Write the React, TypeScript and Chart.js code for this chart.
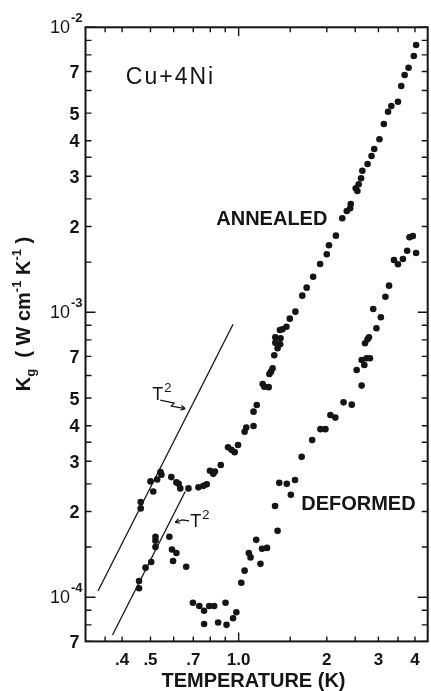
import React, { useEffect, useRef } from "react";
import { Chart, registerables } from "chart.js";

Chart.register(...registerables);

// ---- data (temperature in K, conductivity Kg in W cm^-1 K^-1) ----
const annealedT = [0.463, 0.463, 0.5, 0.511, 0.527, 0.541, 0.545, 0.589, 0.613, 0.624, 0.632, 0.674, 0.729, 0.758, 0.778, 0.798, 0.819, 0.83, 0.869, 0.92, 0.945, 0.969, 0.995, 1.048, 1.062, 1.124, 1.124, 1.153, 1.208, 1.224, 1.266, 1.273, 1.29, 1.306, 1.323, 1.334, 1.334, 1.358, 1.386, 1.39, 1.383, 1.411, 1.456, 1.495, 1.562, 1.649, 1.707, 1.796, 1.897, 1.999, 2.034, 2.148, 2.258, 2.34, 2.403, 2.414, 2.51, 2.543, 2.569, 2.618, 2.644, 2.755, 2.842, 2.903, 3.025, 3.131, 3.237, 3.321, 3.499, 3.591, 3.687, 3.803, 3.963, 4.034];
const annealedK = [2.05e-4, 2.16e-4, 2.55e-4, 2.35e-4, 2.59e-4, 2.75e-4, 2.69e-4, 2.64e-4, 2.53e-4, 2.5e-4, 2.41e-4, 2.41e-4, 2.43e-4, 2.46e-4, 2.49e-4, 2.78e-4, 2.71e-4, 2.76e-4, 2.91e-4, 3.36e-4, 3.29e-4, 3.23e-4, 3.42e-4, 3.81e-4, 3.94e-4, 3.99e-4, 4.48e-4, 4.73e-4, 5.6e-4, 5.48e-4, 5.46e-4, 6.07e-4, 6.19e-4, 6.36e-4, 7.07e-4, 7.82e-4, 8.17e-4, 7.48e-4, 7.72e-4, 8.11e-4, 8.67e-4, 8.72e-4, 8.9e-4, 9.5e-4, 1.005e-3, 1.144e-3, 1.22e-3, 1.333e-3, 1.477e-3, 1.598e-3, 1.718e-3, 1.857e-3, 2.137e-3, 2.267e-3, 2.317e-3, 2.399e-3, 2.723e-3, 2.664e-3, 2.812e-3, 2.953e-3, 3.138e-3, 3.313e-3, 3.535e-3, 3.741e-3, 4.046e-3, 4.577e-3, 5.056e-3, 5.294e-3, 5.481e-3, 6.223e-3, 6.801e-3, 7.214e-3, 7.932e-3, 8.667e-3];

const deformedT = [0.457, 0.457, 0.481, 0.503, 0.52, 0.52, 0.52, 0.58, 0.592, 0.613, 0.597, 0.662, 0.698, 0.734, 0.762, 0.794, 0.825, 0.902, 0.982, 0.957, 0.909, 0.851, 0.762, 1.021, 1.048, 1.083, 1.098, 1.148, 1.187, 1.202, 1.25, 1.331, 1.358, 1.376, 1.46, 1.558, 1.507, 1.641, 1.782, 1.903, 1.978, 2.057, 2.138, 2.281, 2.433, 2.63, 2.529, 2.686, 2.63, 2.734, 2.807, 2.701, 2.755, 2.786, 2.954, 3.059, 2.88, 3.17, 3.262, 3.391, 3.499, 3.638, 3.761, 4.034, 3.832, 3.932];
const deformedK = [1.075e-4, 1.14e-4, 1.27e-4, 1.33e-4, 1.5e-4, 1.58e-4, 1.63e-4, 1.63e-4, 1.47e-4, 1.43e-4, 1.34e-4, 1.28e-4, 9.57e-5, 9.32e-5, 8.97e-5, 9.32e-5, 9.32e-5, 9.57e-5, 8.86e-5, 8.44e-5, 8.0e-5, 8.15e-5, 8.06e-5, 1.125e-4, 1.24e-4, 1.43e-4, 1.38e-4, 1.59e-4, 1.31e-4, 1.48e-4, 1.49e-4, 2.09e-4, 1.71e-4, 2.52e-4, 2.5e-4, 2.58e-4, 2.29e-4, 3.11e-4, 3.56e-4, 3.89e-4, 3.89e-4, 4.36e-4, 4.27e-4, 4.83e-4, 4.74e-4, 5.53e-4, 6.27e-4, 6.53e-4, 6.8e-4, 6.9e-4, 6.9e-4, 7.79e-4, 8.04e-4, 8.17e-4, 8.79e-4, 9.61e-4, 1.027e-3, 1.134e-3, 1.24e-3, 1.526e-3, 1.474e-3, 1.538e-3, 1.645e-3, 1.615e-3, 1.833e-3, 1.852e-3];

// T^2 guide lines (end points)
const guideUpperT = [0.331, 0.957];
const guideUpperK = [1.052e-4, 9.08e-4];
const guideLowerT = [0.371, 0.657];
const guideLowerK = [7.37e-5, 2.35e-4];

// ---- axes ----
const xMin = 0.303;
const xMax = 4.42;
const yMin = 7e-5;
const yMax = 1e-2;
const xTickValues = [0.35, 0.4, 0.5, 0.6, 0.7, 0.8, 0.9, 1, 1.5, 2, 2.5, 3, 3.5, 4];
const xLabelValues = [0.4, 0.5, 0.7, 1, 2, 3, 4];
const xLabelTexts = [".4", ".5", ".7", "1.0", "2", "3", "4"];
const yTickValues = [7e-5, 8e-5, 9e-5, 1e-4, 1.5e-4, 2e-4, 2.5e-4, 3e-4, 3.5e-4, 4e-4, 5e-4, 6e-4, 7e-4, 8e-4, 9e-4, 1e-3, 1.5e-3, 2e-3, 2.5e-3, 3e-3, 3.5e-3, 4e-3, 5e-3, 6e-3, 7e-3, 8e-3, 9e-3, 1e-2];
const yLabelValues = [7e-5, 1e-4, 2e-4, 3e-4, 4e-4, 5e-4, 7e-4, 1e-3, 2e-3, 3e-3, 4e-3, 5e-3, 7e-3, 1e-2];
const yLabelTexts = ["7", "10^-4", "2", "3", "4", "5", "7", "10^-3", "2", "3", "4", "5", "7", "10^-2"];

// annotation anchors (data coordinates)
const alloyLabel = { text: "Cu+4Ni", x: 0.412, y: 6.32e-3 };
const annealedLabel = { text: "ANNEALED", x: 1.298, y: 2.108e-3 };
const deformedLabel = { text: "DEFORMED", x: 2.564, y: 2.108e-4 };
const t2UpperLabel = { x: 0.507, y: 4.92e-4 };
const t2LowerLabel = { x: 0.683, y: 1.765e-4 };

const INK = "#151515";
const FONT = '"Liberation Sans", Arial, sans-serif';

function isDecade(v: number) {
  const l = Math.log10(v);
  return Math.abs(l - Math.round(l)) < 1e-9;
}

function arrowHead(ctx: CanvasRenderingContext2D, fx: number, fy: number, tx: number, ty: number, size: number) {
  const ang = Math.atan2(ty - fy, tx - fx);
  ctx.moveTo(tx, ty);
  ctx.lineTo(tx - size * Math.cos(ang - 0.5), ty - size * Math.sin(ang - 0.5));
  ctx.moveTo(tx, ty);
  ctx.lineTo(tx - size * Math.cos(ang + 0.5), ty - size * Math.sin(ang + 0.5));
}

const framePlugin = {
  id: "paperFrame",
  afterDatasetsDraw(chart: any) {
    const { ctx, chartArea: a } = chart;
    const xs = chart.scales.x;
    const ys = chart.scales.y;
    ctx.save();
    ctx.strokeStyle = INK;
    ctx.fillStyle = INK;
    ctx.lineWidth = 2;
    ctx.strokeRect(a.left, a.top, a.right - a.left, a.bottom - a.top);

    // inward ticks on all four sides
    ctx.lineWidth = 1.4;
    ctx.beginPath();
    for (const v of xTickValues) {
      const px = xs.getPixelForValue(v);
      const len = isDecade(v) ? 9 : 5;
      ctx.moveTo(px, a.bottom);
      ctx.lineTo(px, a.bottom - len);
      ctx.moveTo(px, a.top);
      ctx.lineTo(px, a.top + len);
    }
    for (const v of yTickValues) {
      const py = ys.getPixelForValue(v);
      const len = isDecade(v) ? 10 : 6;
      ctx.moveTo(a.left, py);
      ctx.lineTo(a.left + len, py);
      ctx.moveTo(a.right, py);
      ctx.lineTo(a.right - len, py);
    }
    ctx.stroke();

    // x tick labels
    ctx.font = `bold 17px ${FONT}`;
    ctx.textAlign = "center";
    ctx.textBaseline = "alphabetic";
    xLabelValues.forEach((v, i) => {
      ctx.fillText(xLabelTexts[i], xs.getPixelForValue(v), a.bottom + 24);
    });

    // y tick labels
    yLabelValues.forEach((v, i) => {
      const py = ys.getPixelForValue(v);
      const t = yLabelTexts[i];
      ctx.textAlign = "right";
      ctx.textBaseline = "alphabetic";
      if (t.includes("^")) {
        const [base, exp] = t.split("^");
        const right = a.left - 3;
        ctx.font = `bold 13px ${FONT}`;
        ctx.fillText(exp, right, py - 5);
        const w = ctx.measureText(exp).width;
        ctx.font = `18px ${FONT}`;
        ctx.fillText(base, right - w - 1, py + 6);
      } else {
        ctx.font = `bold 18px ${FONT}`;
        ctx.fillText(t, a.left - 6, py + 6.5);
      }
    });

    // axis titles
    ctx.font = `bold 20px ${FONT}`;
    ctx.textAlign = "center";
    ctx.fillText("TEMPERATURE (K)", a.left + 168, a.bottom + 46);

    // y title (rotated, with sub/superscripts)
    const main = `bold 20px ${FONT}`;
    const small = `bold 13px ${FONT}`;
    const parts: [string, string, number][] = [
      ["K", main, 0],
      ["g", small, 5],
      ["  ( W cm", main, 0],
      ["-1", small, -9],
      [" K", main, 0],
      ["-1", small, -9],
      [" )", main, 0],
    ];
    let total = 0;
    for (const [t, f] of parts) {
      ctx.font = f;
      total += ctx.measureText(t).width;
    }
    ctx.save();
    ctx.translate(30, 314);
    ctx.rotate(-Math.PI / 2);
    ctx.textAlign = "left";
    let cx = -total / 2;
    for (const [t, f, dy] of parts) {
      ctx.font = f;
      ctx.fillText(t, cx, dy);
      cx += ctx.measureText(t).width;
    }
    ctx.restore();

    // in-plot labels
    ctx.textAlign = "left";
    ctx.font = `23px ${FONT}`;
    const c2: any = ctx;
    if ("letterSpacing" in c2) c2.letterSpacing = "2px";
    ctx.fillText(alloyLabel.text, xs.getPixelForValue(alloyLabel.x), ys.getPixelForValue(alloyLabel.y));
    if ("letterSpacing" in c2) c2.letterSpacing = "0px";
    ctx.font = `bold 20px ${FONT}`;
    ctx.textAlign = "center";
    ctx.textBaseline = "middle";
    ctx.fillText(annealedLabel.text, xs.getPixelForValue(annealedLabel.x), ys.getPixelForValue(annealedLabel.y));
    ctx.fillText(deformedLabel.text, xs.getPixelForValue(deformedLabel.x), ys.getPixelForValue(deformedLabel.y));

    // T^2 annotations
    ctx.textAlign = "left";
    ctx.textBaseline = "alphabetic";
    const drawT2 = (px: number, py: number) => {
      ctx.font = `18px ${FONT}`;
      ctx.fillText("T", px, py);
      const w = ctx.measureText("T").width;
      ctx.font = `13px ${FONT}`;
      ctx.fillText("2", px + w + 1, py - 8);
    };
    const ux = xs.getPixelForValue(t2UpperLabel.x);
    const uy = ys.getPixelForValue(t2UpperLabel.y);
    drawT2(ux, uy);
    const lx = xs.getPixelForValue(t2LowerLabel.x);
    const ly = ys.getPixelForValue(t2LowerLabel.y);
    drawT2(lx, ly);

    ctx.lineWidth = 1.2;
    ctx.beginPath();
    // squiggly arrow to upper line
    ctx.moveTo(ux + 8, uy);
    ctx.lineTo(ux + 22, uy + 3);
    ctx.lineTo(ux + 19, uy + 6);
    ctx.lineTo(ux + 33, uy + 8.5);
    arrowHead(ctx, ux + 19, uy + 6, ux + 33, uy + 8.5, 5);
    // short arrow to lower line
    ctx.moveTo(lx - 1, ly - 6);
    ctx.lineTo(lx - 8, ly - 7);
    ctx.lineTo(lx - 15, ly - 4.5);
    arrowHead(ctx, lx - 8, ly - 7, lx - 15, ly - 4.5, 5);
    ctx.stroke();

    ctx.restore();
  },
};

export default function App() {
  const canvasRef = useRef<HTMLCanvasElement | null>(null);

  useEffect(() => {
    const canvas = canvasRef.current;
    if (!canvas) return;
    const dot = {
      showLine: false,
      pointRadius: 3.3,
      pointHoverRadius: 3.3,
      pointBackgroundColor: INK,
      pointBorderWidth: 0,
      borderColor: INK,
    };
    const guide = {
      showLine: true,
      pointRadius: 0,
      pointHoverRadius: 0,
      borderColor: INK,
      borderWidth: 1.3,
      fill: false,
      tension: 0,
    };
    const chart = new Chart(canvas, {
      type: "scatter",
      data: {
        datasets: [
          { label: "Annealed", data: annealedT.map((t, i) => ({ x: t, y: annealedK[i] })), ...dot },
          { label: "Deformed", data: deformedT.map((t, i) => ({ x: t, y: deformedK[i] })), ...dot },
          { label: "T² (annealed)", data: guideUpperT.map((t, i) => ({ x: t, y: guideUpperK[i] })), ...guide },
          { label: "T² (deformed)", data: guideLowerT.map((t, i) => ({ x: t, y: guideLowerK[i] })), ...guide },
        ],
      },
      options: {
        responsive: false,
        animation: false,
        events: [],
        layout: { padding: { left: 85.5, right: 1, top: 27.3, bottom: 49.6 } },
        plugins: { legend: { display: false }, tooltip: { enabled: false }, title: { display: false } },
        scales: {
          x: { type: "logarithmic", min: xMin, max: xMax, display: false },
          y: { type: "logarithmic", min: yMin, max: yMax, display: false },
        },
      } as any,
      plugins: [framePlugin],
    });
    return () => chart.destroy();
  }, []);

  return (
    <div style={{ position: "fixed", left: 0, top: 0, width: 431, height: 691, background: "#fff" }}>
      <canvas ref={canvasRef} width={431} height={691} style={{ display: "block", width: 431, height: 691 }} />
    </div>
  );
}
